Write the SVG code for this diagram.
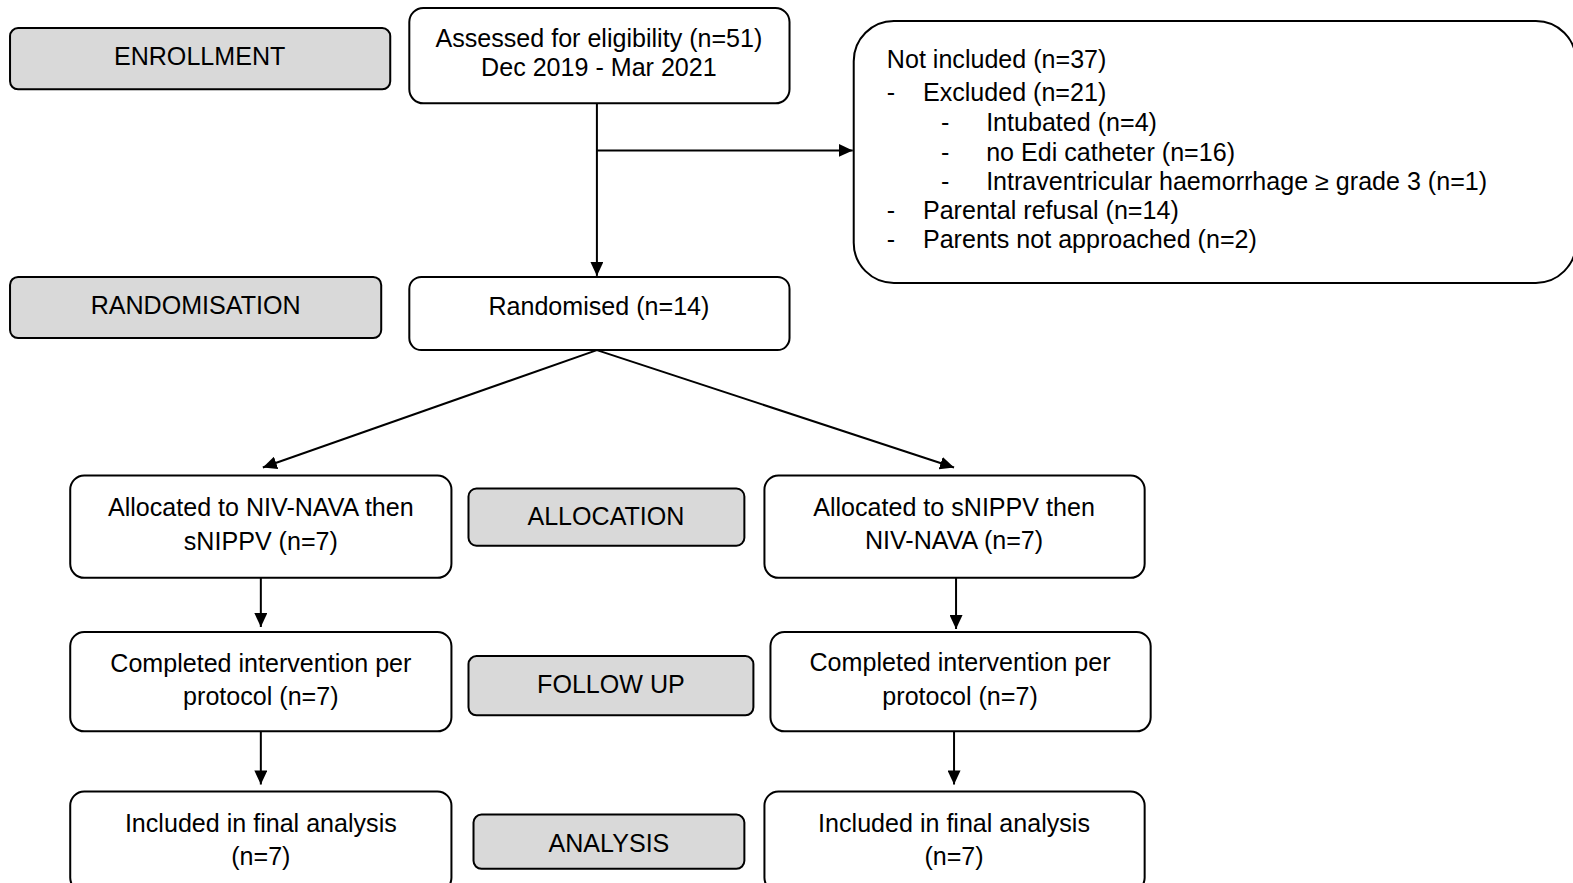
<svg xmlns="http://www.w3.org/2000/svg" width="1573" height="883" viewBox="0 0 1573 883">
<style>
.box{fill:#fff;stroke:#000;stroke-width:2}
.lab{fill:#d9d9d9;stroke:#000;stroke-width:2}
text{font-family:"Liberation Sans",Arial,sans-serif;font-size:25px;fill:#000}
.c{text-anchor:middle}
.ln{stroke:#000;stroke-width:2;fill:none}
</style>
<defs>
<marker id="ah" viewBox="0 0 14 13" refX="14" refY="6.5" markerWidth="14" markerHeight="13" markerUnits="userSpaceOnUse" orient="auto">
<path d="M0,0 L14,6.5 L0,13 z" fill="#000"/>
</marker>
</defs>
<rect width="1573" height="883" fill="#fff"/>
<g transform="scale(1.0032)">
<g id="connectors">
<line class="ln" x1="595" y1="103" x2="595" y2="275" marker-end="url(#ah)"/>
<line class="ln" x1="595" y1="150" x2="850" y2="150" marker-end="url(#ah)"/>
<line class="ln" x1="595" y1="349" x2="262" y2="466" marker-end="url(#ah)"/>
<line class="ln" x1="595" y1="349" x2="951" y2="466" marker-end="url(#ah)"/>
<line class="ln" x1="260" y1="576" x2="260" y2="625" marker-end="url(#ah)"/>
<line class="ln" x1="953" y1="576" x2="953" y2="627" marker-end="url(#ah)"/>
<line class="ln" x1="260" y1="729" x2="260" y2="782" marker-end="url(#ah)"/>
<line class="ln" x1="951" y1="729" x2="951" y2="782" marker-end="url(#ah)"/>
</g>
<g id="enrollment">
<rect class="lab" x="10" y="28" width="379" height="61" rx="8"/>
<text class="c" x="199" y="65">ENROLLMENT</text>
</g>
<g id="assessed">
<rect class="box" x="408" y="8" width="379" height="95" rx="14"/>
<text class="c" x="597" y="47">Assessed for eligibility (n=51)</text>
<text class="c" x="597" y="76">Dec 2019 - Mar 2021</text>
</g>
<g id="not-included">
<rect class="box" x="851" y="21" width="720" height="261" rx="40"/>
<text x="884" y="68">Not included (n=37)</text>
<text x="884" y="101">-</text><text x="920" y="101">Excluded (n=21)</text>
<text x="938" y="131">-</text><text x="983" y="131">Intubated (n=4)</text>
<text x="938" y="160">-</text><text x="983" y="160">no Edi catheter (n=16)</text>
<text x="938" y="189">-</text><text x="983" y="189">Intraventricular haemorrhage ≥ grade 3 (n=1)</text>
<text x="884" y="218">-</text><text x="920" y="218">Parental refusal (n=14)</text>
<text x="884" y="247">-</text><text x="920" y="247">Parents not approached (n=2)</text>
</g>
<g id="randomisation">
<rect class="lab" x="10" y="276" width="370" height="61" rx="8"/>
<text class="c" x="195" y="313">RANDOMISATION</text>
</g>
<g id="randomised">
<rect class="box" x="408" y="276" width="379" height="73" rx="12"/>
<text class="c" x="597" y="314">Randomised (n=14)</text>
</g>
<g id="alloc-left">
<rect class="box" x="70" y="474" width="380" height="102" rx="14"/>
<text class="c" x="260" y="514">Allocated to NIV-NAVA then</text>
<text class="c" x="260" y="548">sNIPPV (n=7)</text>
</g>
<g id="allocation">
<rect class="lab" x="467" y="487" width="275" height="57" rx="8"/>
<text class="c" x="604" y="523">ALLOCATION</text>
</g>
<g id="alloc-right">
<rect class="box" x="762" y="474" width="379" height="102" rx="14"/>
<text class="c" x="951" y="514">Allocated to sNIPPV then</text>
<text class="c" x="951" y="547">NIV-NAVA (n=7)</text>
</g>
<g id="completed-left">
<rect class="box" x="70" y="630" width="380" height="99" rx="14"/>
<text class="c" x="260" y="670">Completed intervention per</text>
<text class="c" x="260" y="703">protocol (n=7)</text>
</g>
<g id="follow-up">
<rect class="lab" x="467" y="654" width="284" height="59" rx="8"/>
<text class="c" x="609" y="691">FOLLOW UP</text>
</g>
<g id="completed-right">
<rect class="box" x="768" y="630" width="379" height="99" rx="14"/>
<text class="c" x="957" y="669">Completed intervention per</text>
<text class="c" x="957" y="703">protocol (n=7)</text>
</g>
<g id="included-left">
<rect class="box" x="70" y="789" width="380" height="100" rx="14"/>
<text class="c" x="260" y="829">Included in final analysis</text>
<text class="c" x="260" y="862">(n=7)</text>
</g>
<g id="analysis">
<rect class="lab" x="472" y="812" width="270" height="54" rx="8"/>
<text class="c" x="607" y="849">ANALYSIS</text>
</g>
<g id="included-right">
<rect class="box" x="762" y="789" width="379" height="100" rx="14"/>
<text class="c" x="951" y="829">Included in final analysis</text>
<text class="c" x="951" y="862">(n=7)</text>
</g>
</g>
</svg>
